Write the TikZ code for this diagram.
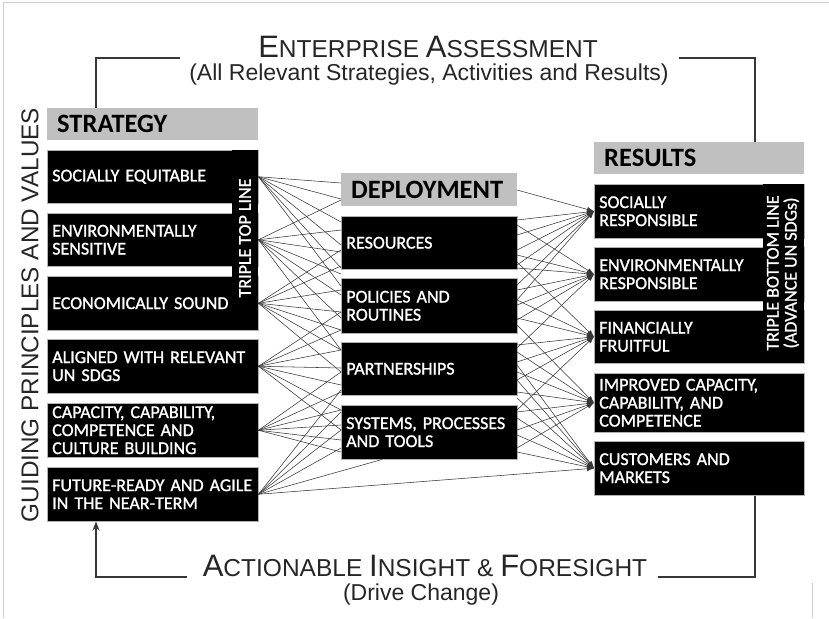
\documentclass[tikz,border=0pt]{standalone}
\usepackage{fontspec}
\setmainfont{Carlito}
\newfontfamily\arialfont{Liberation Sans}
\newfontfamily\boxfont[FakeBold=1.2]{Carlito}
\usetikzlibrary{arrows.meta}

\definecolor{hdrgray}{RGB}{192,192,192}
\definecolor{linegray}{RGB}{55,55,55}
\definecolor{framegray}{RGB}{205,205,205}
\newcommand{\capup}[1]{{\fontsize{31}{33}\selectfont #1}}

\tikzset{
  hdr/.style={fill=hdrgray, anchor=north west, inner xsep=10pt, inner ysep=0pt, align=left,
    font=\bfseries\fontsize{26.5}{28}\selectfont},
  blk/.style={fill=black, draw=gray!60, line width=0.5pt, text=white, anchor=north west,
    inner xsep=5pt, inner ysep=0pt, align=left, font=\boxfont\fontsize{18}{18}\selectfont},
  striptxt/.style={text=white, rotate=90, align=center, inner sep=0pt, font=\boxfont\fontsize{18}{18}\selectfont},
  conn/.style={draw=linegray, line width=0.55pt},
  tip/.style={-{Latex[length=7pt,width=5pt]}},
  bracket/.style={draw=linegray, line width=1.2pt},
  ttl/.style={anchor=base, text=black!85, font=\arialfont\fontsize{24.5}{27}\selectfont},
  subttl/.style={anchor=base, text=black!85, font=\arialfont\fontsize{23}{25}\selectfont}
}

\begin{document}
\begin{tikzpicture}[x=1pt,y=-1pt]
\useasboundingbox (0,0) rectangle (829,618);

% frame of the screenshot
\draw[framegray, line width=1pt] (3,618) -- (3,3) -- (829,3);
\draw[framegray, line width=1pt] (812,583) -- (812,618);

% titles
\node[ttl] (enttl) at (428,58) {\capup{E}NTERPRISE \capup{A}SSESSMENT};
\node[subttl] (ensub) at (429,81) {(All Relevant Strategies, Activities and Results)};
\node[ttl] (actttl) at (425,576) {\capup{A}CTIONABLE \capup{I}NSIGHT \& \capup{F}ORESIGHT};
\node[subttl] (actsub) at (421,600) {(Drive Change)};
\node[rotate=90, inner sep=0pt, text=black!85, font=\arialfont\fontsize{24.3}{26}\selectfont] (guide) at (30,315) {GUIDING PRINCIPLES AND VALUES};

% strategy column
\node[hdr, text width=191pt, minimum height=32pt] (hstrat) at (47,108) {STRATEGY};
\node[blk, text width=201pt, minimum height=53pt] (s1) at (47,150) {SOCIALLY EQUITABLE};
\node[blk, text width=201pt, minimum height=53pt] (s2) at (47,213) {ENVIRONMENTALLY\\SENSITIVE};
\node[blk, text width=201pt, minimum height=54pt] (s3) at (47,276) {ECONOMICALLY SOUND};
\fill[black] (232,150) rectangle (258,330);
\node[striptxt] (ttop) at (245,238) {TRIPLE TOP LINE};
\node[blk, text width=201pt, minimum height=54pt] (s4) at (47,339) {ALIGNED WITH RELEVANT\\UN SDGS};
\node[blk, text width=201pt, minimum height=54pt] (s5) at (47,403) {CAPACITY, CAPABILITY,\\COMPETENCE AND\\CULTURE BUILDING};
\node[blk, text width=201pt, minimum height=54pt] (s6) at (47,467) {FUTURE-READY AND AGILE\\IN THE NEAR-TERM};

% deployment column
\node[hdr, text width=156pt, minimum height=33pt] (hdep) at (341,173) {DEPLOYMENT};
\node[blk, text width=166pt, minimum height=53pt] (d1) at (341,216) {RESOURCES};
\node[blk, text width=166pt, minimum height=55pt] (d2) at (341,278) {POLICIES AND\\ROUTINES};
\node[blk, text width=166pt, minimum height=53pt] (d3) at (341,342) {PARTNERSHIPS};
\node[blk, text width=166pt, minimum height=54pt] (d4) at (341,405) {SYSTEMS, PROCESSES\\AND TOOLS};

% results column
\node[hdr, text width=190pt, minimum height=32pt] (hres) at (594,142) {RESULTS};
\node[blk, text width=200pt, minimum height=54pt] (r1) at (594,184) {SOCIALLY\\RESPONSIBLE};
\node[blk, text width=200pt, minimum height=54pt] (r2) at (594,247) {ENVIRONMENTALLY\\RESPONSIBLE};
\node[blk, text width=200pt, minimum height=53pt] (r3) at (594,310) {FINANCIALLY\\FRUITFUL};
\fill[black] (763,184) rectangle (804,363);
\node[striptxt] (tbot) at (783,273) {TRIPLE BOTTOM LINE\\(ADVANCE UN SDGs)};
\node[blk, text width=200pt, minimum height=59pt] (r4) at (594,373) {IMPROVED CAPACITY,\\CAPABILITY, AND\\COMPETENCE};
\node[blk, text width=200pt, minimum height=54pt] (r5) at (594,441) {CUSTOMERS AND\\MARKETS};

% edges of the deployment column
\coordinate (dl) at (341,0);
\coordinate (dr) at (517,0);

% strategy -> deployment
\foreach \y in {183,199,222,245,268,286} \draw[conn] (s1.east) -- (dl |- 0,\y);
\foreach \y in {200,230,252,274,295,318,350} \draw[conn] (s2.east) -- (dl |- 0,\y);
\foreach \y in {250,266,290,312,330,350,372} \draw[conn] (s3.east) -- (dl |- 0,\y);
\foreach \y in {312,330,350,368,385,410,430} \draw[conn] (s4.east) -- (dl |- 0,\y);
\foreach \y in {372,392,410,425,440,452} \draw[conn] (s5.east) -- (dl |- 0,\y);
\foreach \y in {390,412,430,448} \draw[conn] (s6.east) -- (dl |- 0,\y);
\draw[conn] (s6.east) -- ([xshift=41pt]d4.south west);
\draw[conn,tip] (s6.east) -- (r5.west); % long line under the systems box

% deployment -> results
\foreach \y in {190,220,235,250,265,285,300} \draw[conn,tip] (dr |- 0,\y) -- (r1.west);
\foreach \y in {225,255,268,290,305,320,348} \draw[conn,tip] (dr |- 0,\y) -- (r2.west);
\foreach \y in {262,300,318,345,362,380,410} \draw[conn,tip] (dr |- 0,\y) -- (r3.west);
\foreach \y in {325,352,372,392,412,430,448} \draw[conn,tip] (dr |- 0,\y) -- (r4.west);
\foreach \y in {365,380,398,418,435,452} \draw[conn,tip] (dr |- 0,\y) -- (r5.west);

% feedback brackets
\coordinate (tla) at (180,58);
\coordinate (tra) at (679,58);
\coordinate (bla) at (187,577);
\coordinate (bra) at (658,577);
\draw[bracket] ([xshift=49pt]hstrat.north west) |- (tla);
\draw[bracket] (tra) -| ([xshift=161pt]hres.north west);
\draw[bracket,-{Stealth[length=9pt,width=7pt]}] (bla) -| ([xshift=49pt]s6.south west);
\draw[bracket] (bra) -| ([xshift=161pt]r5.south west);

\end{tikzpicture}
\end{document}
